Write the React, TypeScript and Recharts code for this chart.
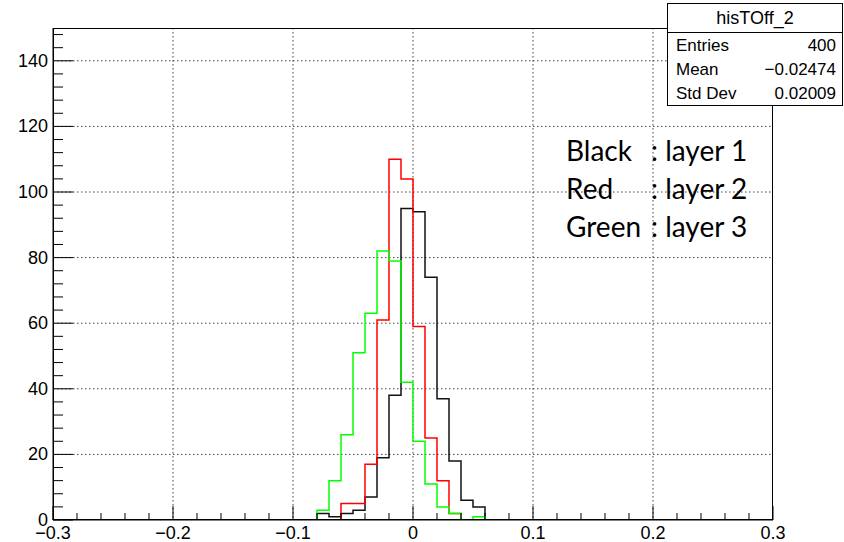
import React from "react";
import { ComposedChart, Line, XAxis, YAxis, CartesianGrid } from "recharts";

// histogram bin edges (width 0.01) and counts per layer
const binEdges = [-0.08, -0.07, -0.06, -0.05, -0.04, -0.03, -0.02, -0.01, 0, 0.01, 0.02, 0.03, 0.04, 0.05, 0.06];
const layer1 = [2, 1, 2, 3, 7, 19, 38, 95, 94, 74, 37, 18, 6, 4];
const layer2 = [0, 0, 5, 5, 17, 61, 110, 104, 59, 25, 12, 2, 0, 0];
const layer3 = [3, 12, 26, 51, 63, 82, 79, 42, 24, 11, 4, 2, 0, 1];

const xMajor = [-0.3, -0.2, -0.1, 0, 0.1, 0.2, 0.3];
const yMajor = [0, 20, 40, 60, 80, 100, 120, 140];
const xTicks = Array.from({ length: 31 }, (_, i) => Math.round((-0.3 + i * 0.02) * 100) / 100);
const yTicks = Array.from({ length: 38 }, (_, i) => i * 4);

const statsTitle = "hisTOff_2";
const statsRows = [
  ["Entries", "400"],
  ["Mean", "\u22120.02474"],
  ["Std Dev", "0.02009"],
];
const legendRows = [
  ["Black", "layer 1"],
  ["Red", "layer 2"],
  ["Green", "layer 3"],
];

const toSteps = (counts: number[]) => [
  { x: -0.3, y: 0 },
  ...counts.map((c, i) => ({ x: binEdges[i], y: c })),
  { x: binEdges[counts.length], y: 0 },
  { x: 0.3, y: 0 },
];

const isMajorX = (v: number) => xMajor.some((m) => Math.abs(m - v) < 1e-6);
const fmtX = (v: number) => (Math.abs(v) < 1e-9 ? "0" : v < 0 ? "\u2212" + Math.abs(v).toFixed(1) : v.toFixed(1));

const XTick = (props: any) => {
  const { x, y, payload } = props;
  const major = isMajorX(payload.value);
  return (
    <g>
      <line x1={x} y1={y} x2={x} y2={y - (major ? 14 : 7)} stroke="#000" strokeWidth={1} />
      {major && (
        <text x={x} y={y + 19} textAnchor="middle" fontSize={18} fontFamily="Liberation Sans, Arial" fill="#000">
          {fmtX(payload.value)}
        </text>
      )}
    </g>
  );
};

const YTick = (props: any) => {
  const { x, y, payload } = props;
  const major = yMajor.includes(payload.value);
  return (
    <g>
      <line x1={x} y1={y} x2={x + (major ? 20 : 10)} y2={y} stroke="#000" strokeWidth={1} />
      {major && (
        <text x={x - 5} y={y + 6} textAnchor="end" fontSize={18} fontFamily="Liberation Sans, Arial" fill="#000">
          {payload.value}
        </text>
      )}
    </g>
  );
};

export default function App() {
  const font = "Liberation Sans, Arial, sans-serif";
  return (
    <div style={{ position: "fixed", left: 0, top: 0, width: 844, height: 542, background: "#fff" }}>
      <ComposedChart width={844} height={542} margin={{ top: 28, right: 71, bottom: 0, left: 0 }}>
        <CartesianGrid
          stroke="#444"
          strokeDasharray="1.5 2.5"
          verticalValues={[-0.2, -0.1, 0, 0.1, 0.2]}
          horizontalValues={[20, 40, 60, 80, 100, 120, 140]}
        />
        <XAxis
          type="number"
          dataKey="x"
          domain={[-0.3, 0.3]}
          ticks={xTicks}
          interval={0}
          tick={<XTick />}
          tickLine={false}
          tickSize={0}
          tickMargin={0}
          height={22}
          axisLine={{ stroke: "#000" }}
          allowDataOverflow
        />
        <YAxis
          type="number"
          domain={[0, 150]}
          ticks={yTicks}
          interval={0}
          tick={<YTick />}
          tickLine={false}
          tickSize={0}
          tickMargin={0}
          width={53}
          axisLine={{ stroke: "#000" }}
          allowDataOverflow
        />
        <Line data={toSteps(layer1)} dataKey="y" type="stepAfter" stroke="#111" strokeWidth={1.5} dot={false} isAnimationActive={false} />
        <Line data={toSteps(layer2)} dataKey="y" type="stepAfter" stroke="#ff0000" strokeWidth={1.5} dot={false} isAnimationActive={false} />
        <Line data={toSteps(layer3)} dataKey="y" type="stepAfter" stroke="#00ff00" strokeWidth={1.5} dot={false} isAnimationActive={false} />
      </ComposedChart>

      {/* plot frame */}
      <div style={{ position: "absolute", left: 53, top: 28, width: 720, height: 492, border: "1px solid #000", boxSizing: "border-box", pointerEvents: "none" }} />

      {/* stats box */}
      <div style={{ position: "absolute", left: 667, top: 3, width: 176, height: 103, border: "1px solid #000", boxSizing: "border-box", background: "#fff", fontFamily: font, color: "#000" }}>
        <div style={{ height: 28, borderBottom: "1px solid #000", textAlign: "center", fontSize: 18, lineHeight: "28px" }}>{statsTitle}</div>
        {statsRows.map(([k, v]) => (
          <div key={k} style={{ display: "flex", justifyContent: "space-between", padding: "1px 6px 0 8px", height: 23, lineHeight: "24px", fontSize: 17 }}>
            <span>{k}</span>
            <span>{v}</span>
          </div>
        ))}
      </div>

      {/* legend text */}
      {legendRows.map(([c, l], i) => (
        <div key={c} style={{ position: "absolute", left: 566, top: 133 + i * 38, fontFamily: "Lato, sans-serif", fontSize: 28, color: "#000", whiteSpace: "nowrap" }}>
          <span>{c}</span>
          <span style={{ position: "absolute", left: 85 }}>:&nbsp;{l}</span>
        </div>
      ))}
    </div>
  );
}
